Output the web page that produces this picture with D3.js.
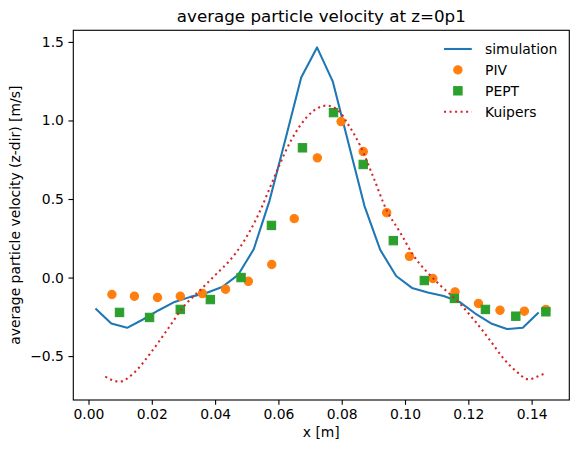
<!DOCTYPE html>
<html>
<head>
<meta charset="utf-8">
<script src="https://cdn.jsdelivr.net/npm/d3@7"></script>
<style>
  body { margin: 0; background: #fff; }
  text { font-family: "DejaVu Sans", sans-serif; fill: #000; }
</style>
</head>
<body>
<div id="chart"></div>
<script>
//Data

//simulation line
var simX = [0.0022, 0.0072, 0.0122, 0.0172, 0.0222, 0.0272, 0.0322, 0.0372, 0.0422, 0.0472,
            0.0522, 0.0572, 0.0622, 0.0672, 0.0722, 0.0772, 0.0822, 0.0872, 0.0922, 0.0972,
            0.1022, 0.1072, 0.1122, 0.1172, 0.1222, 0.1272, 0.1322, 0.1372, 0.1422];
var simY = [-0.197, -0.292, -0.320, -0.267, -0.208, -0.155, -0.123, -0.098, -0.060, 0.015,
            0.180, 0.490, 0.879, 1.274, 1.465, 1.247, 0.850, 0.455, 0.175, 0.010,
            -0.066, -0.095, -0.117, -0.155, -0.229, -0.292, -0.328, -0.320, -0.222];

//PIV measurements
var pivX = [0.0074, 0.0145, 0.0218, 0.0290, 0.0360, 0.0433, 0.0505, 0.0579, 0.0650, 0.0723,
            0.0798, 0.0868, 0.0942, 0.1014, 0.1088, 0.1158, 0.1232, 0.1300, 0.1377, 0.1445];
var pivY = [-0.108, -0.119, -0.127, -0.119, -0.102, -0.074, -0.024, 0.083, 0.375, 0.762,
            0.993, 0.802, 0.413, 0.135, -0.006, -0.091, -0.165, -0.208, -0.214, -0.203];

//PEPT measurements
var peptX = [0.0098, 0.0193, 0.0290, 0.0385, 0.0482, 0.0578, 0.0676, 0.0774,
             0.0868, 0.0963, 0.1061, 0.1156, 0.1254, 0.1350, 0.1445];
var peptY = [-0.222, -0.254, -0.203, -0.140, 0.000, 0.332, 0.826, 1.050,
             0.720, 0.235, -0.019, -0.133, -0.203, -0.246, -0.218];

//Kuipers model curve
var kuipX = [0.0053, 0.0098, 0.0142, 0.0195, 0.0248, 0.0300, 0.0363, 0.0405, 0.0447, 0.0479,
             0.0511, 0.0543, 0.0574, 0.0605, 0.0637, 0.0669, 0.0705, 0.0753, 0.0795, 0.0816,
             0.0858, 0.0900, 0.0942, 0.0984, 0.1026, 0.1069, 0.1111, 0.1168, 0.1227, 0.1268,
             0.1311, 0.1353, 0.1390, 0.1416, 0.1442];
var kuipY = [-0.631, -0.663, -0.610, -0.483, -0.335, -0.187, -0.060, 0.025, 0.110, 0.194,
             0.300, 0.428, 0.576, 0.724, 0.862, 0.968, 1.052, 1.095, 1.052, 0.989,
             0.841, 0.639, 0.428, 0.290, 0.142, 0.036, -0.049, -0.155, -0.292, -0.398,
             -0.515, -0.600, -0.648, -0.632, -0.610];

//Tick values and labels
var xTicks = [0.00, 0.02, 0.04, 0.06, 0.08, 0.10, 0.12, 0.14];
var yTicks = [-0.5, 0.0, 0.5, 1.0, 1.5];
var legendLabels = ["simulation", "PIV", "PEPT", "Kuipers"];

//Canvas size
var svgWidth = 579;
var svgHeight = 453;

//Plot area position
var margin = { top: 30.3, bottom: 53, left: 73.3, right: 9.7 };
var chartWidth = svgWidth - margin.left - margin.right;
var chartHeight = svgHeight - margin.top - margin.bottom;

//Colours (matplotlib tab10)
var cBlue = "#1f77b4", cOrange = "#ff7f0e", cGreen = "#2ca02c", cRed = "#d62728";

var svg = d3.select("#chart")
    .append("svg")
    .attr("width", svgWidth)
    .attr("height", svgHeight);

var chartGroup = svg.append("g")
    .attr("transform", `translate(${margin.left}, ${margin.top})`);

//Scales
var xScale = d3.scaleLinear()
    .domain([-0.0048, 0.1519])
    .range([0, chartWidth]);

var yScale = d3.scaleLinear()
    .domain([-0.7795, 1.574])
    .range([chartHeight, 0]);

//Zip arrays into point lists
function zip(xs, ys) {
   return xs.map(function(x, i) { return { x: x, y: ys[i] }; });
}
var simData = zip(simX, simY);
var pivData = zip(pivX, pivY);
var peptData = zip(peptX, peptY);
var kuipData = zip(kuipX, kuipY);

//Clip to plot area
chartGroup.append("clipPath")
    .attr("id", "clip")
    .append("rect")
    .attr("width", chartWidth)
    .attr("height", chartHeight);

var plot = chartGroup.append("g").attr("clip-path", "url(#clip)");

var line = d3.line()
    .x(d => xScale(d.x))
    .y(d => yScale(d.y));

//simulation line
plot.append("path")
    .datum(simData)
    .attr("d", line)
    .attr("fill", "none")
    .attr("stroke", cBlue)
    .attr("stroke-width", 2.08)
    .attr("stroke-linejoin", "round")
    .attr("stroke-linecap", "butt");

//PIV circles
plot.selectAll(".piv")
    .data(pivData)
    .enter()
    .append("circle")
    .attr("class", "piv")
    .attr("cx", d => xScale(d.x))
    .attr("cy", d => yScale(d.y))
    .attr("r", 4.17)
    .attr("fill", cOrange)
    .attr("stroke", cOrange)
    .attr("stroke-width", 1.1);

//PEPT squares
var sq = 8.33;
plot.selectAll(".pept")
    .data(peptData)
    .enter()
    .append("rect")
    .attr("class", "pept")
    .attr("x", d => xScale(d.x) - sq / 2)
    .attr("y", d => yScale(d.y) - sq / 2)
    .attr("width", sq)
    .attr("height", sq)
    .attr("fill", cGreen)
    .attr("stroke", cGreen)
    .attr("stroke-width", 1.1);

//Kuipers dotted curve
plot.append("path")
    .datum(kuipData)
    .attr("d", line.curve(d3.curveMonotoneX))
    .attr("fill", "none")
    .attr("stroke", cRed)
    .attr("stroke-width", 2.08)
    .attr("stroke-dasharray", "2.08,3.44");

//Axes
var bottomAxis = d3.axisBottom(xScale)
    .tickValues(xTicks)
    .tickFormat(d3.format(".2f"))
    .tickSizeOuter(0)
    .tickSizeInner(4.86)
    .tickPadding(4.5);

var leftAxis = d3.axisLeft(yScale)
    .tickValues(yTicks)
    .tickFormat(function(d) { return d3.format(".1f")(d).replace("-", "\u2212"); })
    .tickSizeOuter(0)
    .tickSizeInner(4.86)
    .tickPadding(4.5);

var xAxisG = chartGroup.append("g")
    .attr("transform", `translate(0, ${chartHeight})`)
    .call(bottomAxis);

var yAxisG = chartGroup.append("g")
    .call(leftAxis);

[xAxisG, yAxisG].forEach(function(g) {
   g.select(".domain").remove();
   g.selectAll(".tick line").attr("stroke", "#000").attr("stroke-width", 1.11);
   g.selectAll(".tick text")
      .attr("fill", "#000")
      .style("font-family", "DejaVu Sans, sans-serif")
      .style("font-size", "13.9px");
});

//Frame around plot
chartGroup.append("rect")
    .attr("width", chartWidth)
    .attr("height", chartHeight)
    .attr("fill", "none")
    .attr("stroke", "#000")
    .attr("stroke-width", 1.11);

//Title
svg.append("text")
    .attr("x", margin.left + chartWidth / 2)
    .attr("y", 22)
    .attr("text-anchor", "middle")
    .style("font-size", "16.7px")
    .text("average particle velocity at z=0p1");

//xAxis label
svg.append("text")
    .attr("x", margin.left + chartWidth / 2)
    .attr("y", 437)
    .attr("text-anchor", "middle")
    .style("font-size", "13.9px")
    .text("x [m]");

//yAxis label
svg.append("text")
    .attr("transform", `translate(20, ${margin.top + chartHeight / 2}) rotate(-90)`)
    .attr("text-anchor", "middle")
    .style("font-size", "13.9px")
    .text("average particle velocity (z-dir) [m/s]");

//Legend
var legend = svg.append("g")
    .attr("transform", "translate(444, 49)");

var rowH = 20.9;

legend.append("line")
    .attr("x1", 0).attr("x2", 27.8)
    .attr("y1", 0).attr("y2", 0)
    .attr("stroke", cBlue)
    .attr("stroke-width", 2.08);

legend.append("circle")
    .attr("cx", 13.9).attr("cy", rowH)
    .attr("r", 4.17)
    .attr("fill", cOrange)
    .attr("stroke", cOrange)
    .attr("stroke-width", 1.1);

legend.append("rect")
    .attr("x", 13.9 - sq / 2).attr("y", 2 * rowH - sq / 2)
    .attr("width", sq).attr("height", sq)
    .attr("fill", cGreen)
    .attr("stroke", cGreen)
    .attr("stroke-width", 1.1);

legend.append("line")
    .attr("x1", 0).attr("x2", 27.8)
    .attr("y1", 3 * rowH).attr("y2", 3 * rowH)
    .attr("stroke", cRed)
    .attr("stroke-width", 2.08)
    .attr("stroke-dasharray", "2.08,3.44");

legend.selectAll(".legtext")
    .data(legendLabels)
    .enter()
    .append("text")
    .attr("class", "legtext")
    .attr("x", 41)
    .attr("y", (d, i) => i * rowH)
    .attr("dy", "0.36em")
    .style("font-size", "13.9px")
    .text(d => d);
</script>
</body>
</html>
